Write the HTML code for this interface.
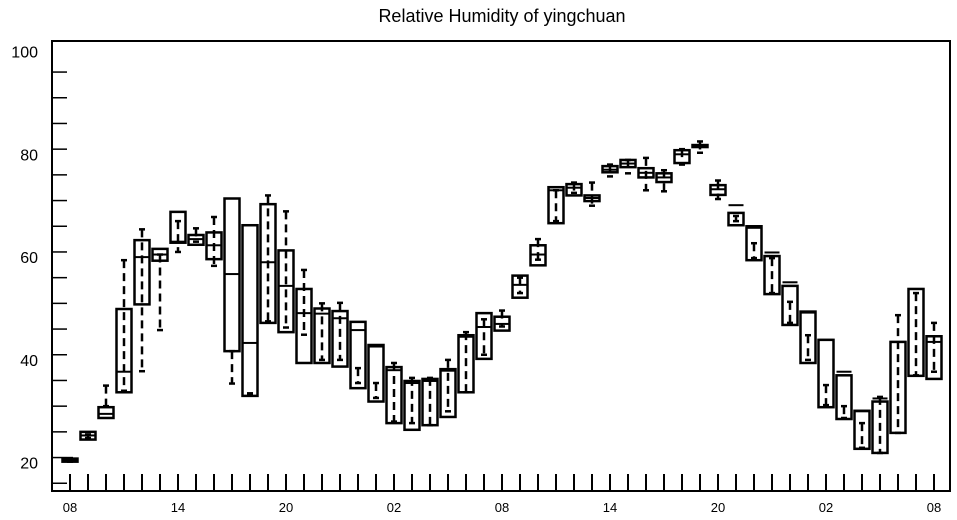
<!DOCTYPE html>
<html><head><meta charset="utf-8"><style>
body{margin:0;background:#fff;}
svg{display:block;font-family:"Liberation Sans",sans-serif;}
</style></head><body>
<svg id="chart" width="957" height="520">
<text x="502" y="22" font-size="18" text-anchor="middle">Relative Humidity of yingchuan</text>
<g id="axes"></g><g id="boxes"></g>
</svg>
<script>
const hours = ["08","09","10","11","12","13","14","15","16","17","18","19","20","21","22","23","00","01","02","03","04","05","06","07","08","09","10","11","12","13","14","15","16","17","18","19","20","21","22","23","00","01","02","03","04","05","06","07","08"];
const boxLow  = [20.2,24.5,28.7,33.7,50.8,59.3,62.8,62.4,59.6,41.7,33.0,47.2,45.4,39.4,39.4,38.7,34.5,31.9,27.7,26.4,27.3,28.9,33.7,40.2,45.7,52.1,58.4,66.6,72.0,70.9,76.5,77.5,75.5,74.6,78.3,81.5,72.1,66.2,59.4,52.8,46.8,39.4,30.8,28.5,22.7,21.9,25.8,36.9,36.3];
const boxHigh = [20.8,26.0,30.8,49.9,63.3,61.6,68.8,64.3,64.8,71.4,66.2,70.3,61.3,53.8,50.0,49.5,47.4,42.9,38.6,35.9,36.3,38.2,44.8,49.1,48.4,56.4,62.3,73.6,74.2,72.0,77.7,78.9,77.3,76.3,80.8,81.8,74.0,68.6,66.0,60.2,54.4,49.4,43.9,37.0,30.1,31.9,43.5,53.8,44.6];
const median  = [20.5,25.3,29.5,37.7,60.0,60.5,63.0,63.5,62.3,56.7,43.3,59.0,54.4,49.1,49.0,48.1,45.8,42.6,38.0,35.5,35.9,37.9,44.5,46.4,47.0,54.6,60.5,73.0,73.5,71.5,77.0,78.2,76.4,75.5,80.0,81.7,73.2,70.1,65.7,60.9,55.1,49.2,43.9,37.7,30.0,32.5,43.5,53.8,43.5];
const whiskLow  = [20.2,24.8,31.0,34.0,37.8,45.8,61.0,63.0,58.3,35.4,33.2,47.5,46.3,44.9,40.0,40.0,35.5,32.6,28.0,27.7,27.3,30.0,33.7,41.0,46.5,53.0,59.5,67.0,72.5,70.0,75.7,76.3,73.0,72.8,78.0,80.3,71.3,67.0,59.8,53.0,47.2,40.0,31.2,28.7,22.9,21.9,25.8,37.0,37.7];
const whiskHigh = [20.9,25.5,35.0,59.4,65.4,60.5,67.0,65.6,67.8,41.7,33.5,72.0,68.9,57.5,51.0,51.1,38.4,35.5,39.4,36.5,36.5,40.0,45.4,47.9,49.6,56.0,63.5,73.0,74.5,74.5,78.0,78.9,79.3,76.9,81.0,82.5,74.9,68.0,62.7,59.8,51.3,44.8,35.1,31.0,27.7,32.8,48.7,53.0,47.2];
const yTicks = ["20","40","60","80","100"];

const NS="http://www.w3.org/2000/svg";
const L=52,R=950,T=41,B=491;
const yv=v=>462.7-(v-20)*5.14;
const xi=i=>70+18*i;
function mk(tag,attrs,parent){const e=document.createElementNS(NS,tag);for(const k in attrs)e.setAttribute(k,attrs[k]);parent.appendChild(e);return e;}
const ax=document.getElementById('axes'), bx=document.getElementById('boxes');
const frame=mk('rect',{x:L,y:T,width:R-L,height:B-T,fill:'none',stroke:'#000','stroke-width':2},ax);


for(let v=16;v<=100;v+=5){
  if(v<15)continue;
  const major=yTicks.includes(String(v));
  const t=mk('line',{x1:L,x2:L+(major?30:15),y1:yv(v),y2:yv(v),stroke:'#000','stroke-width':major?2.5:1.5},ax);
  
  
}
yTicks.forEach(s=>{
  const t=mk('text',{x:38,y:yv(+s)+6,'font-size':16,'text-anchor':'end'},ax);t.textContent=s;
  
  
});
hours.forEach((h,i)=>{
  const t=mk('line',{x1:xi(i),x2:xi(i),y1:B,y2:B-17,stroke:'#000','stroke-width':2},ax);
  
  
  if(i%6===0){
    const l=mk('text',{x:xi(i),y:512,'font-size':13,'text-anchor':'middle'},ax);l.textContent=h;
    
    
  }
});
hours.forEach((h,i)=>{
  const g=mk('g',{},bx);
  
  
  const x=xi(i),w=15;
  const y1=yv(boxHigh[i]),y2=yv(boxLow[i]);
  mk('rect',{x:x-w/2,y:y1,width:w,height:Math.max(2,y2-y1),fill:'none',stroke:'#000','stroke-width':2.5},g);
  mk('line',{x1:x-w/2,x2:x+w/2,y1:yv(median[i]),y2:yv(median[i]),stroke:'#000','stroke-width':2},g);
  const a=yv(whiskHigh[i]),b=yv(whiskLow[i]);
  mk('line',{x1:x,x2:x,y1:a,y2:b,stroke:'#000','stroke-width':2.5,'stroke-dasharray':'8,5'},g);
  mk('line',{x1:x-3,x2:x+3,y1:a,y2:a,stroke:'#000','stroke-width':2.5},g);
  mk('line',{x1:x-3,x2:x+3,y1:b,y2:b,stroke:'#000','stroke-width':2.5},g);
});
</script>
</body></html>
